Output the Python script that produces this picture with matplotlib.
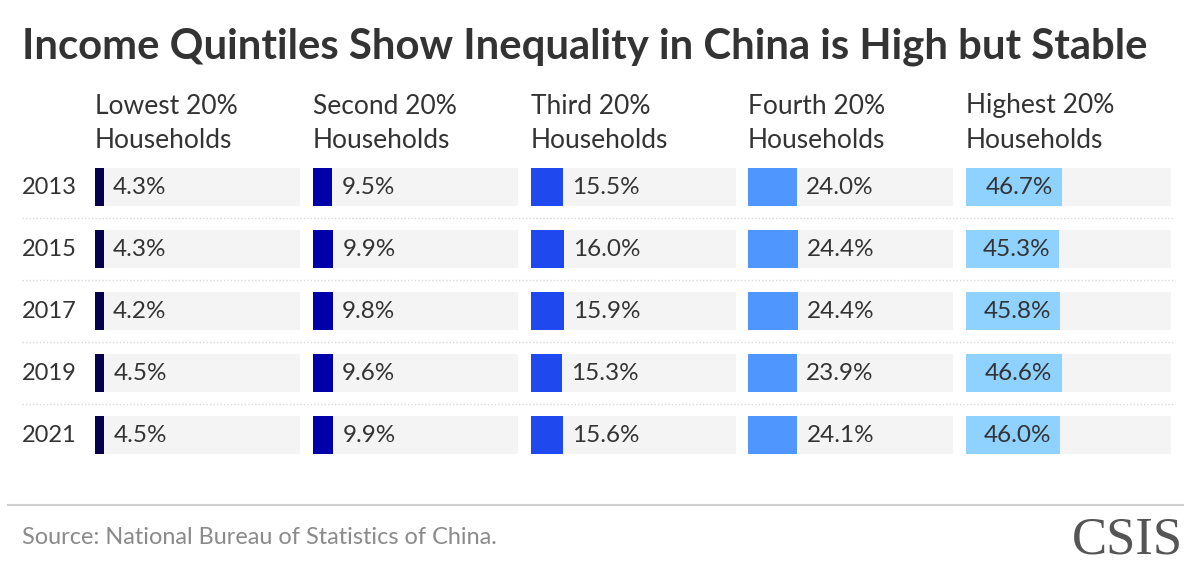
import matplotlib.pyplot as plt

# ------------------------------------------------------------ #
# Data
# ------------------------------------------------------------ #
years = ["2013", "2015", "2017", "2019", "2021"]
groups = [
    "Lowest 20%\nHouseholds",
    "Second 20%\nHouseholds",
    "Third 20%\nHouseholds",
    "Fourth 20%\nHouseholds",
    "Highest 20%\nHouseholds",
]
lowest = [4.3, 4.3, 4.2, 4.5, 4.5]
second = [9.5, 9.9, 9.8, 9.6, 9.9]
third = [15.5, 16.0, 15.9, 15.3, 15.6]
fourth = [24.0, 24.4, 24.4, 23.9, 24.1]
highest = [46.7, 45.3, 45.8, 46.6, 46.0]

series = [lowest, second, third, fourth, highest]
colors = ["#07004F", "#0000A8", "#1F48EE", "#4F97FF", "#8FD1FF"]

# ------------------------------------------------------------ #
# Layout (pixels on a 1200x580 canvas)
# ------------------------------------------------------------ #
W, H = 1200, 580
plt.rcParams["font.family"] = ["Lato", "DejaVu Sans"]
TEXT = "#333333"

fig = plt.figure(figsize=(W / 100, H / 100), dpi=100)

# full-canvas axes in pixel coords for the loose text and rules
bg = fig.add_axes([0, 0, 1, 1])
bg.set_xlim(0, W)
bg.set_ylim(H, 0)
bg.axis("off")

bg.text(22, 47, "Income Quintiles Show Inequality in China is High but Stable",
        fontsize=30.2, fontweight="bold", color=TEXT, va="center", ha="left")

col_x = [95, 313, 531, 748, 966]
panel_w = 205
row_y0, row_step = 187, 62

for i, y in enumerate(years):
    bg.text(22, row_y0 + i * row_step, y, fontsize=17, color=TEXT,
            va="center", ha="left")
for i in range(len(years) - 1):
    yy = row_y0 + row_step / 2 + i * row_step
    bg.plot([22, 1175], [yy, yy], color="#d8d8d8", lw=1.0,
            linestyle=(0, (1, 1.5)))

for j, g in enumerate(groups):
    bg.text(col_x[j], 123, g, fontsize=19, color=TEXT, va="center",
            ha="left", linespacing=1.45)

bg.plot([8, 1183], [505, 505], color="#cfcfcf", lw=1.5)
bg.text(22, 538, "Source: National Bureau of Statistics of China.",
        fontsize=16.9, color="#8a8a8a", va="center", ha="left")
bg.text(1183, 541, "CSIS", fontsize=38, color="#555555", va="center",
        ha="right", family="Liberation Serif")

# ------------------------------------------------------------ #
# One axes per quintile
# ------------------------------------------------------------ #
for j, vals in enumerate(series):
    top = row_y0 - row_step / 2
    ax = fig.add_axes([col_x[j] / W, 1 - (top + row_step * len(years)) / H,
                       panel_w / W, row_step * len(years) / H])
    ypos = list(range(len(years)))
    ax.barh(ypos, [100] * len(years), height=38 / row_step, color="#F4F4F4")
    ax.barh(ypos, vals, height=38 / row_step, color=colors[j])
    ax.set_xlim(0, 100)
    ax.set_ylim(len(years) - 0.5, -0.5)
    ax.axis("off")
    for k, v in enumerate(vals):
        if j == len(series) - 1:
            ax.annotate(f"{v:.1f}%", (v, k), xytext=(-9, 0),
                        textcoords="offset pixels", ha="right", va="center",
                        fontsize=17.5, color=TEXT)
        else:
            ax.annotate(f"{v:.1f}%", (v, k), xytext=(9, 0),
                        textcoords="offset pixels", ha="left", va="center",
                        fontsize=17.5, color=TEXT)

fig.savefig("out.png", dpi=100)
